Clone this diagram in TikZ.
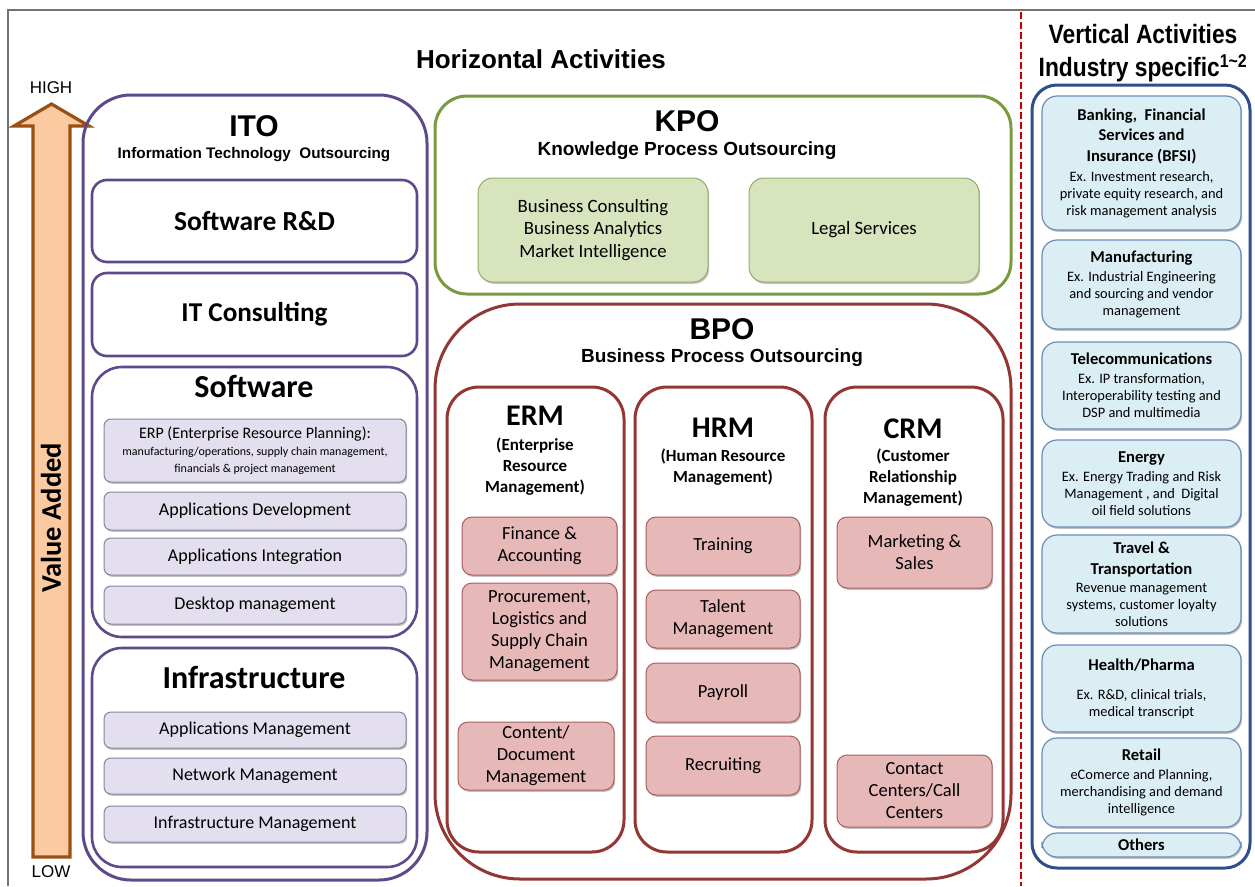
\documentclass[tikz,border=0pt]{standalone}
\usepackage{fontspec}
\setmainfont{Carlito}
\newfontfamily\arialf{Liberation Sans}
\newfontfamily\arialn[FakeStretch=0.86]{Liberation Sans}
\usetikzlibrary{shadows}
\definecolor{purp}{HTML}{5E4A8A}
\definecolor{lav}{HTML}{E4DFEE}
\definecolor{lavb}{HTML}{8A839E}
\definecolor{grn}{HTML}{7A9A3F}
\definecolor{grnfill}{HTML}{D7E4BD}
\definecolor{grnb}{HTML}{93AD68}
\definecolor{bred}{HTML}{943634}
\definecolor{pink}{HTML}{E6B9B8}
\definecolor{pinkb}{HTML}{A85E5C}
\definecolor{blu}{HTML}{2F4F8A}
\definecolor{blufill}{HTML}{DBEEF4}
\definecolor{blub}{HTML}{6C8CB8}
\definecolor{orgfill}{HTML}{FBCAA0}
\definecolor{orgline}{HTML}{9A4F13}
\definecolor{dashred}{HTML}{C00000}
\newcommand\fsz[2]{\fontsize{#1}{#2}\selectfont}
\newcommand\tb[1]{{\bfseries\fsz{16.6}{20}#1}}
\newcommand\rbox[7]{%
  \pgfmathsetmacro\rbcx{(#3+#5)/2}%
  \pgfmathsetmacro\rbcy{(#4+#6)/2}%
  \pgfmathsetmacro\rbw{#5-#3}%
  \pgfmathsetmacro\rbh{#6-#4}%
  \node[#1, minimum width=\rbw pt, minimum height=\rbh pt] (#2) at (\rbcx,\rbcy) {#7};}
\tikzset{
  every node/.style={inner sep=0pt, outer sep=0pt, align=center},
  shad/.style={drop shadow={shadow xshift=1.2pt, shadow yshift=-1.8pt, opacity=0.35, fill=black!70}},
  itobox/.style={draw=purp, line width=3pt, rounded corners=48pt},
  pbox/.style={draw=purp, line width=2.6pt, rounded corners=15pt, fill=white},
  pbigbox/.style={draw=purp, line width=2.6pt, rounded corners=30pt, fill=white},
  lbox/.style={draw=lavb, line width=1pt, fill=lav, rounded corners=7pt, shad, font=\fsz{18}{21}},
  kpobox/.style={draw=grn, line width=3pt, rounded corners=32pt},
  gbox/.style={draw=grnb, line width=1pt, fill=grnfill, rounded corners=15pt, shad, font=\fsz{18.8}{22.5}},
  bpobox/.style={draw=bred, line width=3pt, rounded corners=85pt},
  colbox/.style={draw=bred, line width=3pt, rounded corners=32pt},
  rbx/.style={draw=pinkb, line width=1pt, fill=pink, rounded corners=10pt, shad, font=\fsz{18.5}{22}},
  vbox/.style={draw=blu, line width=3pt, rounded corners=25pt},
  bbox/.style={draw=blub, line width=1.2pt, fill=blufill, rounded corners=15pt, shad, font=\fsz{14.4}{17}},
  headA/.style={font=\arialf\bfseries\fsz{30}{32}},
  headB/.style={font=\arialf\bfseries\fsz{19}{21}},
  headC/.style={font=\bfseries\fsz{30}{32}},
  subC/.style={font=\bfseries\fsz{17}{21}},
  arrowsty/.style={draw=orgline, fill=orgfill, line width=3.2pt, line join=miter},
}
\begin{document}
\begin{tikzpicture}[x=1pt,y=-1pt]
\useasboundingbox (0,0) rectangle (1255,886);
\fill[white] (0,0) rectangle (1255,886);
% frame
\draw[black!55, line width=1.5pt] (8,886) -- (8,10) -- (1255,10);
% dashed separator
\draw[dashred, line width=2.6pt, dash pattern=on 7pt off 3pt] (1021,12) -- (1021,886);

% titles
\node[font=\arialf\bfseries\fsz{26}{28}] (hz) at (541,59) {Horizontal Activities};
\node[font=\arialn\bfseries\fsz{26.5}{33}] (vt) at (1143,53) {Vertical Activities\\Industry specific\textsuperscript{1\textasciitilde2}};

% value arrow
\draw[arrowsty] (33,857) -- (33,126) -- (14,126) -- (51.5,104) -- (89,126) -- (70,126) -- (70,857) -- cycle;
\node[font=\arialf\fsz{17}{19}] (high) at (51,88) {HIGH};
\node[font=\arialf\fsz{17}{19}] (low) at (51,872) {LOW};
\node[rotate=90, font=\bfseries\fsz{28.5}{30}] (va) at (51,518) {Value Added};

% ITO
\rbox{itobox}{ito}{83}{95}{427}{880}{}
\node[headA] (itoT) at (254,126) {ITO};
\node[font=\arialf\bfseries\fsz{15.3}{17}] (itoS) at (254,155) {Information Technology\ \ Outsourcing};
\rbox{pbox, font=\bfseries\fsz{27.5}{28}}{srd}{92}{180}{417}{262}{Software R\&D}
\rbox{pbox, font=\bfseries\fsz{27.2}{28}}{itc}{92}{273}{417}{356}{IT Consulting}
\rbox{pbigbox}{sw}{92}{367}{417}{637}{}
\node[font=\bfseries\fsz{32}{34}] (swT) at (254,386) {Software};
\rbox{lbox}{erp}{104}{419}{406}{482}{{\fsz{16}{20}ERP (Enterprise Resource Planning):}\\[-4pt]{\fsz{12}{13}manufacturing/operations, supply chain management,}\\[-4.5pt]{\fsz{12}{13}financials \& project management}}
\rbox{lbox}{apd}{104}{492}{406}{530}{Applications Development}
\rbox{lbox}{api}{104}{538}{406}{575}{Applications Integration}
\rbox{lbox}{dsk}{104}{586}{406}{624}{Desktop management}
\rbox{pbigbox}{inf}{92}{648}{417}{867}{}
\node[font=\bfseries\fsz{32}{34}] (infT) at (254,677) {Infrastructure};
\rbox{lbox}{apm}{104}{712}{406}{748}{Applications Management}
\rbox{lbox}{nwm}{104}{758}{406}{794}{Network Management}
\rbox{lbox}{ifm}{104}{806}{406}{842}{Infrastructure Management}

% KPO
\rbox{kpobox}{kpo}{435}{96}{1011}{294}{}
\node[headA] (kpoT) at (687,121) {KPO};
\node[headB] (kpoS) at (687,151) {Knowledge Process Outsourcing};
\rbox{gbox}{bc}{478}{178}{708}{282}{Business Consulting\\Business Analytics\\Market Intelligence}
\rbox{gbox}{ls}{749}{178}{979}{282}{Legal Services}

% BPO
\rbox{bpobox}{bpo}{435}{304}{1011}{879}{}
\node[headA] (bpoT) at (722,329) {BPO};
\node[headB] (bpoS) at (722,358) {Business Process Outsourcing};
\rbox{colbox}{erm}{447}{387}{624}{852}{}
\rbox{colbox}{hrm}{635}{387}{812}{852}{}
\rbox{colbox}{crm}{825}{387}{1003}{852}{}
\node[headC] (ermT) at (535,416) {ERM};
\node[subC] (ermS) at (535,467) {(Enterprise\\Resource\\Management)};
\node[headC] (hrmT) at (723,428) {HRM};
\node[subC] (hrmS) at (723,467) {(Human Resource\\Management)};
\node[headC] (crmT) at (913,429) {CRM};
\node[subC] (crmS) at (913,478) {(Customer\\Relationship\\Management)};
\rbox{rbx}{fin}{462}{517}{617}{575}{Finance \&\\Accounting}
\rbox{rbx}{pro}{462}{583}{617}{680}{Procurement,\\Logistics and\\Supply Chain\\Management}
\rbox{rbx}{cdm}{458}{722}{614}{790}{Content/\\Document\\Management}
\rbox{rbx}{trn}{646}{517}{800}{575}{Training}
\rbox{rbx}{tal}{646}{590}{800}{648}{Talent\\Management}
\rbox{rbx}{pay}{646}{663}{800}{722}{Payroll}
\rbox{rbx}{rec}{646}{736}{800}{795}{Recruiting}
\rbox{rbx}{mks}{837}{517}{992}{588}{Marketing \&\\Sales}
\rbox{rbx}{ccc}{837}{755}{992}{827}{Contact\\Centers/Call\\Centers}

% Vertical activities
\rbox{vbox}{vert}{1032}{85}{1250}{868}{}
\rbox{bbox}{bfsi}{1042}{96}{1241}{230}{\tb{Banking,\ \ Financial}\\[3.5pt]\tb{Services and}\\[3.5pt]\tb{Insurance (BFSI)}\\[3pt]Ex. Investment research,\\private equity research, and\\risk management analysis}
\rbox{bbox}{manu}{1042}{240}{1241}{329}{\tb{Manufacturing}\\[2pt]Ex. Industrial Engineering\\and sourcing and vendor\\management}
\rbox{bbox}{tele}{1042}{342}{1241}{429}{\tb{Telecommunications}\\[2pt]Ex. IP transformation,\\Interoperability testing and\\DSP and multimedia}
\rbox{bbox}{enr}{1042}{440}{1241}{527}{\tb{Energy}\\[2pt]Ex. Energy Trading and Risk\\Management , and\ \ Digital\\oil field solutions}
\rbox{bbox}{trv}{1042}{535}{1241}{633}{\tb{Travel \&}\\[4pt]\tb{Transportation}\\[1pt]Revenue management\\systems, customer loyalty\\solutions}
\rbox{bbox}{hlt}{1042}{645}{1241}{732}{\tb{Health/Pharma}\\[12pt]Ex. R\&D, clinical trials,\\medical transcript}
\rbox{bbox}{ret}{1042}{738}{1241}{827}{\tb{Retail}\\[2pt]eComerce and Planning,\\merchandising and demand\\intelligence}
\rbox{bbox}{oth}{1042}{833}{1241}{857}{\tb{Others}}
\end{tikzpicture}
\end{document}
